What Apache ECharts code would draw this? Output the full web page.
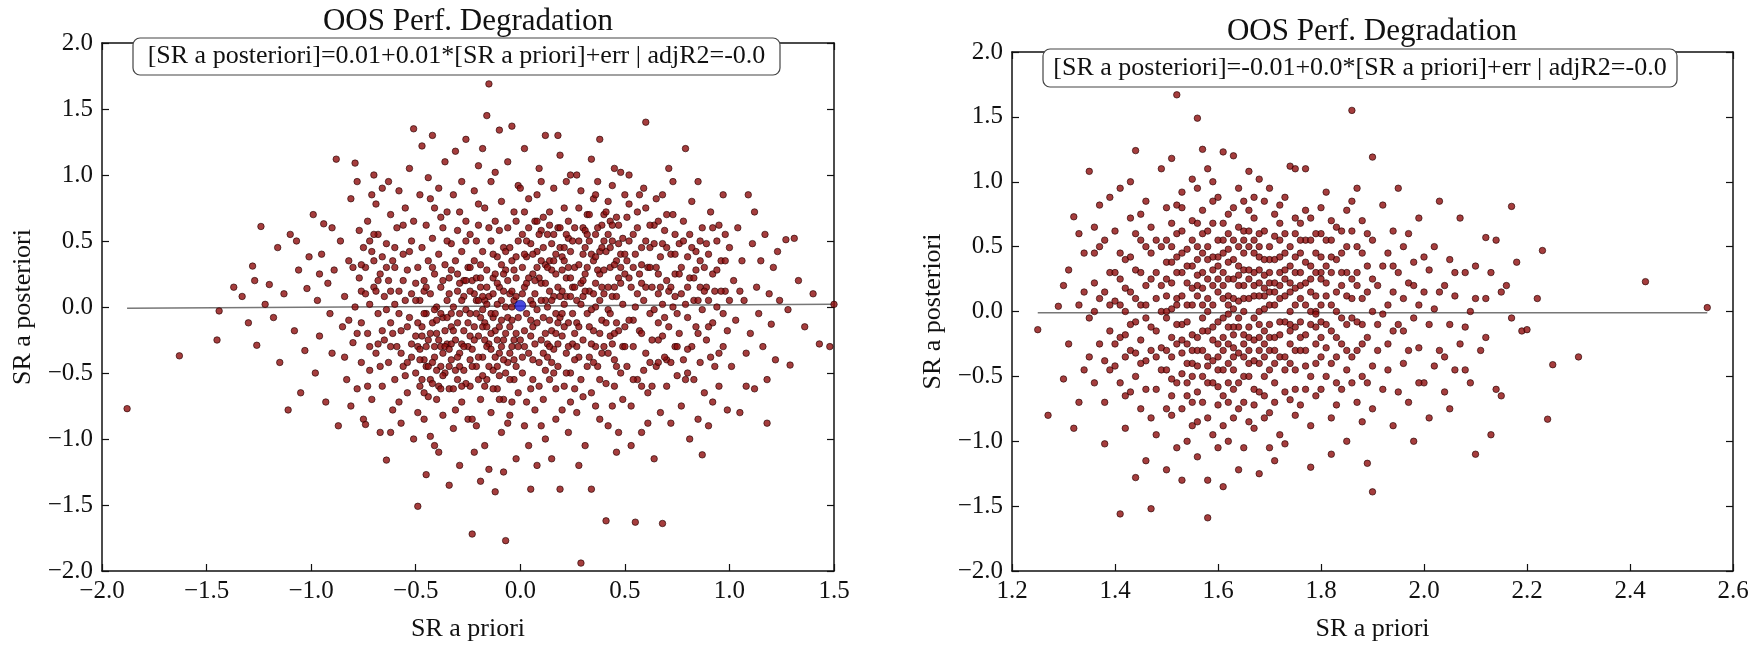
<!DOCTYPE html>
<html>
<head>
<meta charset="utf-8">
<title>OOS Perf. Degradation</title>
<script src="https://cdn.jsdelivr.net/npm/echarts@6/dist/echarts.min.js"></script>
<style>
  html, body { margin: 0; padding: 0; background: #fff; }
  #main { width: 1760px; height: 647px; }
</style>
</head>
<body>
<div id="main"></div>
<script>
// ticks
var leftXTicks = [-2.0, 1.5, 0.5];   // min, max, step
var rightXTicks = [1.2, 2.6, 0.2];
var yTicks = [-2.0, 2.0, 0.5];

// left panel: [SR a priori, SR a posteriori]
var leftPoints = [
[-1.88,-0.77],[-1.63,-0.37],
[-1.45,-0.25],[-1.44,-0.03],[-1.37,0.15],[-1.33,0.08],[-1.30,-0.12],[-1.28,0.31],[-1.27,0.20],[-1.26,-0.29],
[-1.24,0.61],[-1.22,0.02],[-1.2,0.17],[-1.18,-0.08],[-1.16,0.45],[-1.15,-0.42],[-1.13,0.1],[-1.11,-0.78],[-1.1,0.55],[-1.08,-0.18],[-1.07,0.5],[-1.06,0.28],[-1.05,-0.65],[-1.03,-0.33],[-1.02,0.14],[-1.01,0.38],
[-0.99,0.70],[-0.98,-0.5],[-0.97,0.05],[-0.96,-0.22],[-0.95,0.4],[-0.94,0.63],[-0.93,-0.72],[-0.92,0.18],[-0.91,-0.05],[-0.9,-0.35],[-0.89,0.28],[-0.88,1.12],[-0.87,-0.9],[-0.86,0.5],[-0.85,-0.15],[-0.84,0.08],[-0.83,-0.55],[-0.82,0.35],[-0.81,0.82],[-0.8,-0.27],[-0.79,1.09],[-0.79,0.0],[-0.78,-0.62],[-0.77,0.22],[-0.77,0.58],[-0.76,-0.12],[-0.76,-0.42],[-0.75,0.45],[-0.75,-0.85],[-0.76,0.12],[-0.78,0.95],[-0.84,-0.38],[-0.9,0.6],[-0.96,0.25],[-0.81,-0.75],
[-0.74,-0.89],[-0.74,0.3],[-0.73,-0.2],[-0.73,0.65],[-0.72,0.02],[-0.72,-0.48],[-0.71,0.42],[-0.71,-0.7],[-0.70,1.0],[-0.70,0.15],[-0.69,-0.35],[-0.69,0.78],[-0.68,-0.05],[-0.68,0.55],[-0.67,-0.95],[-0.67,0.25],[-0.66,-0.6],[-0.66,0.9],[-0.65,0.08],[-0.65,-0.25],[-0.64,-1.16],[-0.64,0.48],[-0.63,-0.42],[-0.63,0.2],[-0.62,0.7],[-0.62,-0.12],[-0.61,-0.78],[-0.61,0.35],[-0.60,0.02],[-0.60,-0.55],[-0.59,0.6],[-0.59,-0.3],[-0.58,0.12],[-0.58,0.88],[-0.57,-0.18],[-0.57,-0.88],[-0.56,0.4],[-0.56,-0.45],[-0.55,0.05],[-0.55,0.75],[-0.54,-0.65],[-0.54,0.28],[-0.53,-0.08],[-0.53,1.05],[-0.52,-0.38],[-0.52,0.5],[-0.51,1.35],[-0.51,-1.0],[-0.50,0.18],[-0.50,-0.22],[-0.73,-0.6],[-0.7,0.55],[-0.68,-0.28],[-0.66,0.38],[-0.64,-0.02],[-0.62,-0.95],[-0.6,0.3],[-0.58,-0.72],[-0.56,0.62],[-0.54,-0.15],[-0.52,0.1],[-0.71,0.85],[-0.67,-0.45],[-0.63,0.95],[-0.57,-0.35],[-0.53,0.42],[-0.55,-0.52],[-0.69,0.12],[-0.61,-0.2],[-0.51,0.65],
[-0.8,0.3],[-0.78,-0.2],[-0.76,0.32],[-0.74,0.1],[-0.72,-0.3],[-0.7,0.35],[-0.68,0.2],[-0.66,-0.18],[-0.64,0.3],[-0.62,-0.3],[-0.6,0.45],[-0.58,-0.05],[-0.56,0.2],[-0.82,-0.1],[-0.72,0.5],[-0.62,0.12],
[-0.49,-1.51],[-0.49,0.3],[-0.49,-0.3],[-0.48,0.05],[-0.48,0.85],[-0.48,-0.6],[-0.47,1.22],[-0.47,-0.15],[-0.47,0.45],[-0.46,-0.85],[-0.46,0.2],[-0.46,-0.4],[-0.45,0.62],[-0.45,-0.05],[-0.45,-1.27],[-0.44,0.35],[-0.44,-0.25],[-0.44,0.98],[-0.43,-0.55],[-0.43,0.1],[-0.43,-0.98],[-0.42,1.3],[-0.42,0.52],[-0.42,-0.12],[-0.41,-0.38],[-0.41,0.25],[-0.41,0.75],[-0.40,-0.7],[-0.40,0.0],[-0.40,-0.2],[-0.39,0.4],[-0.39,-1.1],[-0.39,0.9],[-0.38,-0.45],[-0.38,0.15],[-0.38,-0.3],[-0.37,0.6],[-0.37,-0.08],[-0.37,-0.82],[-0.36,0.32],[-0.36,1.1],[-0.36,-0.5],[-0.35,0.05],[-0.35,-0.28],[-0.35,0.72],[-0.34,-0.62],[-0.34,0.22],[-0.34,-1.35],[-0.33,0.48],[-0.33,-0.15],[-0.33,-0.4],[-0.32,0.85],[-0.32,0.0],[-0.32,-0.92],[-0.31,0.35],[-0.31,-0.25],[-0.31,1.18],[-0.30,-0.55],[-0.30,0.12],[-0.30,0.58],[-0.29,-0.35],[-0.29,-0.05],[-0.29,-1.2],[-0.28,0.42],[-0.28,-0.72],[-0.28,0.95],[-0.27,0.2],[-0.27,-0.18],[-0.27,-0.48],[-0.26,1.27],[-0.26,0.65],[-0.26,-0.02],[-0.25,-0.3],[-0.25,-0.85],[-0.25,0.3],
[-0.48,-0.4],[-0.46,0.12],[-0.44,-0.68],[-0.42,0.3],[-0.4,-0.48],[-0.38,0.68],[-0.36,-0.18],[-0.34,0.1],[-0.32,-0.62],[-0.3,0.25],[-0.28,-0.28],[-0.26,0.5],[-0.47,-0.22],[-0.43,0.82],[-0.39,-0.6],[-0.35,0.5],[-0.31,-0.78],[-0.27,0.08],[-0.45,0.15],[-0.41,-0.02],[-0.37,0.2],[-0.33,-0.05],[-0.29,0.18],[-0.49,-0.8],[-0.45,-0.45],[-0.41,-1.05],[-0.37,-0.35],[-0.33,0.28],[-0.29,0.72],
[-0.54,-0.42],[-0.52,-0.28],[-0.5,-0.5],[-0.49,-0.12],[-0.48,-0.32],[-0.47,-0.55],[-0.46,-0.05],[-0.45,-0.3],[-0.44,-0.45],[-0.43,-0.2],[-0.42,-0.58],[-0.41,-0.3],[-0.4,-0.1],[-0.39,-0.25],[-0.38,-0.62],[-0.37,-0.52],[-0.36,-0.3],[-0.35,-0.08],[-0.34,-0.45],[-0.33,-0.28],[-0.32,-0.18],[-0.31,-0.48],[-0.3,-0.38],[-0.5,0.05],[-0.46,-0.65],[-0.42,-0.42],[-0.38,-0.05],[-0.34,-0.32],[-0.3,-0.12],
[-0.24,-0.05],[-0.24,0.55],[-0.24,-0.6],[-0.23,-1.72],[-0.23,0.2],[-0.23,-0.32],[-0.22,0.88],[-0.22,-0.15],[-0.22,0.35],[-0.21,-0.9],[-0.21,0.05],[-0.21,-0.45],[-0.20,1.07],[-0.20,0.62],[-0.20,-0.22],[-0.19,-1.32],[-0.19,0.15],[-0.19,-0.7],[-0.18,0.42],[-0.18,-0.02],[-0.18,-0.38],[-0.17,0.75],[-0.17,-0.12],[-0.17,-1.05],[-0.16,1.45],[-0.16,0.28],[-0.16,-0.55],[-0.15,1.69],[-0.15,-1.23],[-0.15,0.08],[-0.15,-0.28],[-0.14,0.5],[-0.14,-0.8],[-0.14,0.95],[-0.13,-0.08],[-0.13,0.22],[-0.13,-0.48],[-0.12,0.65],[-0.12,-0.18],[-0.12,-1.4],[-0.11,0.38],[-0.11,-0.62],[-0.11,0.02],[-0.10,1.34],[-0.10,-0.35],[-0.10,0.15],[-0.09,0.8],[-0.09,-0.95],[-0.09,-0.1],[-0.08,0.45],[-0.08,-0.25],[-0.08,-0.7],[-0.07,-1.77],[-0.07,0.28],[-0.07,0.0],[-0.06,-0.42],[-0.06,0.6],[-0.06,1.1],[-0.05,-0.15],[-0.05,0.1],[-0.05,-0.82],[-0.04,1.37],[-0.04,0.35],[-0.04,-0.3],[-0.03,-0.55],[-0.03,0.72],[-0.03,0.05],[-0.02,-1.15],[-0.02,0.22],[-0.02,-0.2],[-0.01,0.5],[-0.01,-0.65],[-0.01,0.92],
[-0.24,0.3],[-0.23,-0.85],[-0.22,0.1],[-0.21,0.5],[-0.2,-0.55],[-0.19,0.32],[-0.18,-0.15],[-0.17,0.05],[-0.16,-0.3],[-0.15,0.6],[-0.14,-0.2],[-0.13,0.4],[-0.12,-0.38],[-0.11,0.18],[-0.1,-0.52],[-0.09,0.32],[-0.08,0.12],[-0.07,-0.5],[-0.06,0.2],[-0.05,-0.35],[-0.04,0.12],[-0.03,-0.4],[-0.02,0.38],[-0.01,-0.08],[-0.24,-0.22],[-0.2,0.78],[-0.16,0.02],[-0.12,1.02],[-0.08,-1.25],[-0.04,-0.72],[-0.22,-1.1],[-0.18,1.2],[-0.14,-0.05],[-0.1,0.58],[-0.06,-0.88],[-0.02,0.65],[-0.19,-0.08],[-0.13,-0.62],[-0.07,0.42],[-0.03,0.28],[-0.21,0.22],[-0.11,-0.25],[-0.05,0.45],[-0.17,-0.6],[-0.09,0.05],
[-0.29,-0.45],[-0.28,0.05],[-0.27,-0.3],[-0.26,-0.58],[-0.25,-0.12],[-0.24,0.12],[-0.23,-0.45],[-0.22,-0.25],[-0.21,-0.05],[-0.2,-0.38],[-0.19,0.22],[-0.18,-0.52],[-0.17,-0.25],[-0.16,0.15],[-0.15,-0.45],[-0.14,-0.32],[-0.13,0.1],[-0.12,-0.05],[-0.11,-0.45],[-0.1,-0.15],[-0.09,-0.3],[-0.08,0.25],[-0.07,-0.2],[-0.06,-0.08],[-0.05,-0.55],[-0.04,-0.1],[-0.03,-0.25],[-0.02,0.08],[-0.01,-0.3],[-0.28,-0.6],[-0.24,-0.4],[-0.2,0.05],[-0.16,-0.15],[-0.12,0.25],[-0.08,-0.4],[-0.04,0.0],[-0.26,0.2],[-0.18,0.08],[-0.1,-0.7],[-0.02,-0.45],
[0.00,-0.25],[0.01,0.55],[0.01,-0.5],[0.02,0.15],[0.02,-0.9],[0.02,1.2],[0.03,-0.05],[0.03,0.38],[0.04,-0.35],[0.04,0.82],[0.05,-1.38],[0.05,0.05],[0.05,-0.62],[0.06,0.25],[0.06,-0.15],[0.07,0.65],[0.07,-0.78],[0.08,-1.2],[0.08,0.42],[0.08,-0.02],[0.09,-0.42],[0.09,1.05],[0.10,0.18],[0.10,-0.25],[0.10,0.58],[0.11,-0.7],[0.11,-0.08],[0.12,0.32],[0.12,1.3],[0.12,-1.0],[0.13,0.0],[0.13,-0.38],[0.14,0.72],[0.14,-0.55],[0.14,0.12],[0.15,-0.18],[0.15,0.48],[0.15,-1.15],[0.16,0.9],[0.16,-0.32],[0.17,0.25],[0.17,-0.85],[0.17,-0.05],[0.18,0.6],[0.18,-0.45],[0.19,0.08],[0.19,-1.38],[0.19,1.15],[0.20,-0.22],[0.20,0.38],[0.21,-0.6],[0.21,0.75],[0.21,0.02],[0.22,-0.35],[0.22,0.22],[0.23,-0.95],[0.23,0.52],[0.23,-0.12],[0.24,1.0],[0.24,-0.5],[0.25,0.15],[0.25,-0.28],
[0.01,0.3],[0.03,-0.72],[0.05,0.48],[0.07,0.1],[0.09,-0.6],[0.11,0.45],[0.13,-0.28],[0.15,0.28],[0.17,-0.62],[0.19,0.45],[0.21,-0.15],[0.23,0.3],[0.02,-0.18],[0.04,0.6],[0.06,-0.4],[0.08,0.85],[0.1,-0.9],[0.12,0.05],[0.14,-0.1],[0.16,0.55],[0.18,-0.28],[0.2,0.12],[0.22,0.95],[0.24,-0.72],[0.0,0.9],[0.04,-1.05],[0.08,0.3],[0.12,-0.48],[0.16,0.08],[0.2,-0.78],[0.24,0.42],[0.03,0.18],[0.07,-0.28],[0.11,0.68],[0.15,-0.42],[0.19,-0.08],[0.23,0.65],[0.05,-0.1],[0.13,0.55],[0.21,0.35],[0.09,0.22],[0.17,0.4],[0.25,-0.05],[0.01,-0.38],[0.06,0.02],[0.14,0.35],[0.18,1.3],[0.22,-0.5],[0.1,0.95],[0.02,0.72],
[0.01,0.1],[0.02,-0.3],[0.03,0.5],[0.04,0.22],[0.05,-0.22],[0.06,0.4],[0.07,0.2],[0.08,-0.12],[0.09,0.55],[0.1,0.05],[0.11,-0.35],[0.12,0.18],[0.13,0.3],[0.14,-0.3],[0.15,0.05],[0.16,0.35],[0.17,-0.2],[0.18,0.15],[0.19,0.6],[0.2,-0.05],[0.21,0.45],[0.22,0.08],[0.23,-0.3],[0.24,0.22],[0.25,0.5],[0.26,0.3],[0.27,-0.12],[0.28,0.5],[0.29,0.18],[0.3,0.6],[0.02,0.4],[0.06,-0.55],[0.1,0.35],[0.14,0.62],[0.18,-0.12],[0.22,0.55],[0.26,-0.2],[0.3,0.08],[0.08,0.65],[0.16,-0.5],[0.24,0.08],[0.12,-0.2],[0.2,0.28],[0.28,-0.38],
[0.26,0.6],[0.26,-0.4],[0.27,0.05],[0.27,-0.8],[0.28,0.32],[0.28,-0.15],[0.29,-1.94],[0.29,0.88],[0.29,-0.55],[0.30,0.2],[0.30,-0.25],[0.31,-1.05],[0.31,0.45],[0.32,-0.05],[0.32,0.7],[0.33,-0.38],[0.33,0.12],[0.34,-1.38],[0.34,1.12],[0.34,-0.65],[0.35,0.35],[0.35,-0.18],[0.36,0.55],[0.36,0.0],[0.37,-0.45],[0.37,0.95],[0.38,1.27],[0.38,0.25],[0.38,-0.85],[0.39,-0.1],[0.39,0.62],[0.40,-0.3],[0.40,0.1],[0.41,-1.62],[0.41,0.42],[0.41,-0.58],[0.42,0.8],[0.42,-0.02],[0.43,-0.22],[0.43,0.3],[0.44,-0.75],[0.44,0.5],[0.45,-0.4],[0.45,1.05],[0.45,0.15],[0.46,-0.12],[0.46,0.68],[0.47,-0.95],[0.47,0.22],[0.48,-0.5],[0.48,0.4],[0.49,0.02],[0.49,-0.3],[0.50,0.85],
[0.26,0.15],[0.27,-0.3],[0.28,0.75],[0.29,0.02],[0.3,-0.68],[0.31,0.12],[0.32,-0.45],[0.33,0.5],[0.34,-0.02],[0.35,0.82],[0.36,-0.3],[0.37,0.28],[0.38,-0.55],[0.39,0.15],[0.4,0.5],[0.41,-0.12],[0.42,-0.9],[0.43,0.65],[0.44,0.08],[0.45,-0.6],[0.46,0.35],[0.47,-0.18],[0.48,1.02],[0.49,-0.7],[0.27,1.0],[0.3,0.4],[0.33,-0.15],[0.36,0.18],[0.39,-0.35],[0.42,0.55],[0.45,-0.2],[0.48,0.18],[0.28,-1.2],[0.32,0.3],[0.36,-0.75],[0.4,0.7],[0.44,-0.28],[0.5,-0.15],[0.31,0.58],[0.35,-0.42],[0.43,-0.05],[0.47,0.48],[0.26,-0.62],[0.38,0.42],[0.46,-1.1],[0.5,0.25],
[0.31,0.25],[0.32,0.55],[0.33,0.7],[0.34,0.4],[0.35,0.1],[0.36,0.38],[0.37,0.6],[0.38,0.05],[0.39,0.45],[0.4,0.28],[0.41,0.72],[0.42,0.15],[0.43,0.45],[0.44,0.62],[0.45,0.32],[0.46,0.08],[0.47,0.62],[0.48,0.3],[0.49,0.52],[0.5,0.4],[0.52,0.5],[0.54,0.3],[0.56,0.6],[0.58,0.32],[0.6,0.15],[0.62,0.45],[0.64,0.62],[0.66,0.25],[0.68,0.48],[0.7,0.7],[0.34,-0.28],[0.38,-0.2],[0.42,-0.35],[0.46,-0.45],[0.5,-0.3],[0.54,-0.1],[0.58,-0.6],[0.62,-0.42],[0.66,-0.25],[0.7,-0.4],[0.36,0.85],[0.44,0.92],[0.52,0.78],[0.6,0.75],[0.68,0.85],
[0.51,-0.45],[0.51,0.35],[0.52,1.0],[0.52,-0.1],[0.53,0.15],[0.53,-0.75],[0.54,0.55],[0.54,-0.3],[0.55,-1.63],[0.55,0.0],[0.56,0.72],[0.56,-0.55],[0.57,0.25],[0.57,-0.18],[0.58,-0.95],[0.58,0.45],[0.59,0.05],[0.59,0.9],[0.60,1.4],[0.60,-0.35],[0.61,0.3],[0.61,-0.65],[0.62,-0.05],[0.62,0.62],[0.63,-0.25],[0.63,0.15],[0.64,-1.15],[0.64,0.48],[0.65,-0.45],[0.65,0.82],[0.66,0.1],[0.66,-0.12],[0.67,-0.8],[0.67,0.38],[0.68,-1.64],[0.68,0.02],[0.69,0.58],[0.69,-0.38],[0.70,0.2],[0.70,-0.6],[0.71,1.05],[0.71,-0.15],[0.72,0.4],[0.72,-0.88],[0.73,0.0],[0.73,0.7],[0.74,-0.3],[0.74,0.25],[0.75,-0.52],
[0.52,0.22],[0.54,-0.55],[0.56,0.1],[0.58,-0.2],[0.6,0.5],[0.62,0.3],[0.64,-0.02],[0.66,0.65],[0.68,-0.22],[0.7,0.45],[0.72,-0.42],[0.74,0.55],[0.53,-1.05],[0.57,0.85],[0.61,-0.88],[0.65,0.3],[0.69,-0.08],[0.73,0.95],[0.55,0.4],[0.63,-0.6],[0.71,0.12],[0.59,-0.48],[0.67,0.15],[0.75,-0.05],[0.51,0.68],[0.58,0.18],[0.66,-0.42],[0.74,0.08],
[0.76,0.48],[0.76,-0.2],[0.77,0.1],[0.77,-0.75],[0.78,0.65],[0.78,-0.4],[0.79,1.2],[0.79,0.02],[0.80,-0.08],[0.80,0.38],[0.81,-1.0],[0.81,0.22],[0.82,-0.3],[0.82,0.8],[0.83,0.05],[0.83,-0.55],[0.84,0.42],[0.84,-0.15],[0.85,0.95],[0.85,-0.85],[0.86,0.15],[0.86,-0.42],[0.87,0.6],[0.87,-0.02],[0.88,-0.65],[0.88,0.3],[0.89,0.48],[0.89,-0.25],[0.90,0.05],[0.90,-0.9],[0.91,0.72],[0.92,-0.12],[0.92,0.25],[0.93,-0.45],[0.94,0.5],[0.94,0.0],[0.95,-0.6],[0.96,0.35],[0.97,-0.3],[0.97,0.85],[0.98,0.12],[0.99,-0.18],[1.00,0.45],
[0.77,0.3],[0.79,-0.55],[0.81,0.55],[0.83,0.22],[0.85,-0.2],[0.87,-1.12],[0.89,0.15],[0.91,-0.38],[0.93,0.12],[0.95,0.62],[0.97,-0.05],[0.99,-0.78],[0.8,-0.32],[0.86,0.35],[0.92,-0.72],[0.98,0.55],
[0.72,0.15],[0.74,0.4],[0.76,0.25],[0.78,0.5],[0.8,0.15],[0.82,0.45],[0.84,0.28],[0.86,0.5],[0.88,0.12],[0.9,0.4],[0.92,0.6],[0.94,0.28],[0.96,0.12],[0.98,0.35],[0.75,-0.3],[0.8,-0.5],[0.85,0.05],[0.9,-0.15],[0.95,-0.35],[1.0,0.05],
[1.01,-0.45],[1.02,0.2],[1.03,-0.1],[1.04,0.6],[1.05,-0.8],[1.06,0.35],[1.07,0.05],[1.08,-0.35],[1.09,0.85],[1.10,-0.2],[1.11,0.48],[1.12,-0.62],[1.13,0.15],[1.14,-0.05],[1.15,0.35],[1.16,-0.3],[1.17,0.55],[1.18,-0.55],[1.19,0.1],[1.20,-0.13],[1.21,0.3],[1.22,-0.4],[1.23,0.42],[1.24,0.05],[1.05,0.12],[1.12,0.72],[1.18,-0.88],[1.08,-0.6],
[1.27,0.51],[1.28,-0.02],[1.29,-0.44],[1.31,0.52],[1.33,0.2],[1.36,-0.15],[1.4,0.1],[1.43,-0.28],[1.48,-0.3],[1.5,0.02]
];
var leftMean = [[0.0, 0.01]];
var leftFit = [[-1.88, -0.01], [1.5, 0.02]];

// right panel
var rightPoints = [
[1.25,-0.14],[1.27,-0.8],[1.29,0.04],[1.3,-0.52],[1.31,0.32],[1.32,0.73],[1.32,-0.9],[1.33,0.6],[1.34,-0.45],[1.34,0.15],
[1.3,0.2],[1.31,-0.25],[1.33,0.05],[1.34,0.45],[1.35,-0.35],[1.36,0.0],[1.37,0.5],[1.38,0.15],[1.39,-0.45],[1.33,-0.7],[1.36,0.65],[1.39,0.05],
[1.35,1.08],[1.35,-0.05],[1.36,0.45],[1.36,-0.55],[1.37,0.82],[1.37,-0.25],[1.37,0.1],[1.38,-1.02],[1.38,0.55],[1.38,-0.7],[1.39,0.3],[1.39,-0.15],[1.39,0.88],[1.36,0.22],[1.38,-0.38],
[1.40,0.08],[1.40,-0.42],[1.40,0.62],[1.41,-1.56],[1.41,0.25],[1.41,-0.2],[1.41,0.95],[1.42,-0.65],[1.42,0.4],[1.42,0.0],[1.42,-0.9],[1.43,0.72],[1.43,-0.3],[1.43,0.15],[1.43,1.0],[1.44,1.24],[1.44,-0.5],[1.44,0.32],[1.44,-0.08],[1.44,-1.28],[1.45,0.55],[1.45,-0.22],[1.45,0.05],[1.45,-0.75],[1.46,0.85],[1.46,0.2],[1.46,-0.38],[1.46,-1.15],[1.47,-1.52],[1.47,0.45],[1.47,-0.12],[1.47,0.65],[1.48,0.1],[1.48,-0.6],[1.48,0.3],[1.48,-0.95],[1.49,1.1],[1.49,-0.28],[1.49,0.0],[1.49,0.5],
[1.40,-0.25],[1.41,0.45],[1.41,-0.55],[1.42,0.18],[1.42,-0.35],[1.43,-0.1],[1.43,0.42],[1.43,-0.62],[1.44,0.1],[1.44,0.6],[1.45,-0.4],[1.45,0.3],[1.46,-0.05],[1.46,0.5],[1.46,-0.6],[1.47,0.25],[1.47,-0.3],[1.48,-0.15],[1.48,0.55],[1.49,0.2],[1.49,-0.45],[1.5,0.38],[1.4,0.3],[1.42,-0.18],[1.44,-0.32],[1.46,0.05],[1.48,-0.35],[1.45,0.75],[1.47,-0.82],[1.41,0.05],
[1.50,-0.45],[1.50,0.25],[1.50,0.8],[1.50,-0.05],[1.51,-0.8],[1.51,0.38],[1.51,-0.2],[1.51,1.18],[1.52,1.67],[1.52,0.1],[1.52,-0.55],[1.52,0.6],[1.52,-1.05],[1.53,-0.32],[1.53,0.3],[1.53,0.92],[1.53,-0.1],[1.53,-1.3],[1.54,0.48],[1.54,-0.65],[1.54,0.05],[1.54,-0.4],[1.55,0.7],[1.55,-0.18],[1.55,0.18],[1.55,-0.88],[1.55,1.02],
[1.5,0.55],[1.51,-0.35],[1.52,0.42],[1.53,-0.75],[1.54,0.22],[1.55,-0.5],[1.5,-1.22],[1.51,0.02],[1.52,-0.25],[1.53,0.62],[1.54,-0.08],[1.55,0.35],[1.5,0.12],[1.52,0.82],[1.54,-1.0],[1.51,0.68],[1.53,-0.48],[1.55,-0.3],
[1.5,-0.3],[1.5,0.0],[1.51,0.22],[1.51,-0.52],[1.52,-0.1],[1.52,0.3],[1.53,0.12],[1.53,-0.22],[1.54,0.35],[1.54,-0.55],[1.55,0.05],[1.55,0.55],[1.56,-0.3],[1.56,0.2],[1.57,-0.05],[1.57,0.6],[1.58,-0.15],[1.58,-0.55],[1.59,0.32],[1.59,0.05],[1.6,-0.35],[1.6,0.25],[1.51,-0.65],[1.53,0.45],[1.55,-0.7],[1.57,0.18],[1.59,-0.22],[1.52,0.05],[1.54,-0.25],[1.56,0.4],[1.58,-0.42],[1.6,0.42],[1.5,-0.75],[1.53,0.8],[1.56,-0.85],[1.59,0.85],[1.51,0.5],[1.55,-0.4],[1.58,0.5],[1.6,-0.58],
[1.56,1.49],[1.56,0.12],[1.56,-0.42],[1.56,0.5],[1.56,-1.12],[1.57,0.78],[1.57,-0.15],[1.57,0.3],[1.57,-0.7],[1.58,-1.59],[1.58,0.0],[1.58,0.62],[1.58,-0.35],[1.58,1.1],[1.59,0.2],[1.59,-0.55],[1.59,0.42],[1.59,-0.95],[1.60,-0.08],[1.60,0.88],[1.60,-0.25],[1.60,0.35],[1.56,-0.62],[1.57,0.05],[1.58,-0.82],[1.59,0.68],[1.6,-0.45],[1.56,0.95],[1.57,-0.3],[1.58,0.25],[1.59,-0.12],[1.6,0.55],[1.56,-0.2],[1.57,0.45],[1.58,-1.3],[1.59,1.0],[1.6,0.15],[1.56,0.28],[1.58,0.4],[1.6,-0.72],[1.57,-0.5],[1.59,-0.38],[1.57,1.25],[1.6,-1.05],[1.58,0.1],[1.56,0.68],
[1.61,-0.2],[1.61,0.45],[1.61,-0.65],[1.61,0.1],[1.61,1.23],[1.62,-0.4],[1.62,0.25],[1.62,0.75],[1.62,-0.02],[1.62,-1.0],[1.63,0.55],[1.63,-0.28],[1.63,0.1],[1.63,-0.82],[1.63,1.2],[1.64,0.35],[1.64,-0.12],[1.64,0.95],[1.64,-0.55],[1.64,-1.22],[1.65,0.2],[1.65,-0.35],[1.65,0.62],[1.65,0.0],[1.65,-0.7],
[1.61,0.3],[1.62,-0.55],[1.63,0.4],[1.64,0.08],[1.65,-0.18],[1.61,-0.88],[1.62,0.6],[1.63,-0.12],[1.64,0.5],[1.65,0.85],[1.61,0.68],[1.62,0.12],[1.63,-0.45],[1.64,-0.32],[1.65,0.32],[1.61,-0.05],[1.63,0.8],[1.65,-1.05],[1.62,-0.25],[1.64,0.2],[1.61,-1.35],[1.63,-0.6],[1.65,0.45],[1.62,0.38],
[1.61,0.2],[1.61,-0.45],[1.62,-0.12],[1.62,0.48],[1.63,0.25],[1.63,-0.35],[1.64,-0.05],[1.64,0.65],[1.65,0.1],[1.65,-0.5],[1.66,0.25],[1.66,-0.2],[1.67,0.45],[1.67,-0.05],[1.68,-0.3],[1.68,0.32],[1.69,-0.25],[1.69,0.28],[1.7,0.4],[1.7,-0.45],[1.61,-0.3],[1.63,-0.18],[1.65,0.55],[1.67,-0.72],[1.69,0.12],[1.62,0.05],[1.64,-0.75],[1.66,0.62],[1.68,-0.1],[1.7,0.22],[1.61,0.55],[1.63,0.02],[1.65,-0.25],[1.67,0.2],[1.69,-0.82],[1.62,-0.7],[1.64,0.28],[1.66,-0.4],[1.68,0.5],[1.7,-0.2],
[1.66,0.1],[1.66,-0.5],[1.66,0.5],[1.66,1.08],[1.67,-0.22],[1.67,0.3],[1.67,-0.9],[1.67,0.72],[1.68,0.0],[1.68,-0.4],[1.68,0.42],[1.68,-1.25],[1.69,0.18],[1.69,-0.15],[1.69,0.62],[1.69,-0.65],[1.70,0.3],[1.70,-0.3],[1.70,0.95],[1.70,0.05],
[1.66,-0.12],[1.67,0.12],[1.68,0.6],[1.69,-0.35],[1.7,-0.78],[1.66,0.32],[1.67,-0.6],[1.68,0.22],[1.69,0.4],[1.7,-0.1],[1.66,-0.85],[1.67,0.55],[1.68,-0.2],[1.69,0.85],[1.7,0.5],[1.66,0.78],[1.68,-0.62],[1.7,0.15],[1.67,-0.38],[1.69,0.02],[1.66,-0.3],[1.68,1.02],[1.7,-1.05],[1.67,0.88],[1.69,-0.5],[1.68,0.12],
[1.71,0.4],[1.71,-0.2],[1.71,0.75],[1.71,-0.55],[1.72,0.1],[1.72,0.55],[1.72,-0.35],[1.72,-0.95],[1.73,0.25],[1.73,-0.08],[1.73,0.88],[1.73,-0.62],[1.74,0.35],[1.74,-0.25],[1.74,1.12],[1.74,0.0],[1.75,0.6],[1.75,-0.45],[1.75,0.18],[1.75,-0.8],
[1.71,0.05],[1.72,0.3],[1.73,-0.35],[1.74,0.5],[1.75,-0.12],[1.71,-0.4],[1.72,0.82],[1.73,0.45],[1.74,-0.68],[1.75,0.3],[1.71,-1.15],[1.73,0.12],[1.75,0.72],[1.72,-0.18],[1.74,0.15],[1.71,0.22],[1.73,-1.02],[1.75,-0.3],[1.72,0.68],[1.74,-0.1],[1.71,0.58],[1.75,1.1],
[1.71,-0.3],[1.71,0.15],[1.72,0.42],[1.72,-0.08],[1.73,0.32],[1.73,-0.45],[1.74,0.22],[1.74,-0.4],[1.75,0.05],[1.75,0.42],[1.76,-0.2],[1.76,0.2],[1.77,0.38],[1.77,-0.3],[1.78,0.25],[1.78,-0.5],[1.79,0.12],[1.79,-0.12],[1.8,0.3],[1.8,-0.08],[1.71,-0.7],[1.73,0.6],[1.75,-0.6],[1.77,0.55],[1.79,-0.65],[1.72,0.2],[1.74,-0.15],[1.76,0.55],[1.78,0.0],[1.8,0.6],
[1.76,0.1],[1.76,-0.3],[1.76,0.45],[1.77,-0.6],[1.77,0.22],[1.77,0.78],[1.78,-0.1],[1.78,0.35],[1.78,-0.88],[1.79,0.6],[1.79,0.0],[1.79,-0.4],[1.80,0.25],[1.80,-0.2],[1.80,0.8],
[1.76,-0.72],[1.77,0.05],[1.78,0.55],[1.79,-0.25],[1.8,0.42],[1.76,0.68],[1.77,-0.42],[1.78,0.15],[1.79,0.3],[1.8,-0.6],[1.76,-0.08],[1.78,-1.2],[1.8,0.05],[1.77,1.1],[1.79,-0.02],[1.76,0.3],[1.78,0.72],[1.8,-0.35],[1.79,0.45],[1.77,-0.18],
[1.81,-0.5],[1.81,0.12],[1.81,0.55],[1.82,-0.15],[1.82,0.3],[1.82,-0.82],[1.83,0.65],[1.83,0.0],[1.83,-0.35],[1.84,0.2],[1.84,-0.6],[1.84,0.45],[1.85,-0.1],[1.85,0.78],[1.85,-1.0],
[1.81,0.35],[1.82,0.05],[1.83,-0.2],[1.84,0.62],[1.85,0.3],[1.81,-0.28],[1.83,0.4],[1.85,-0.45],[1.82,-1.1],[1.84,-0.05],[1.81,0.92],[1.83,-0.72],[1.85,0.12],[1.82,0.55],
[1.81,0.22],[1.81,-0.1],[1.82,0.42],[1.82,-0.4],[1.83,0.15],[1.83,-0.55],[1.84,0.3],[1.84,-0.25],[1.85,0.5],[1.85,-0.3],[1.86,0.1],[1.86,-0.55],[1.87,0.2],[1.87,-0.3],[1.88,0.45],[1.88,-0.1],[1.89,0.6],[1.89,-0.55],[1.9,0.25],[1.91,-0.1],[1.92,0.35],[1.93,-0.25],[1.94,0.15],[1.95,-0.1],[1.82,0.7],[1.86,0.85],[1.9,-0.75],[1.94,0.62],
[1.86,1.55],[1.86,0.25],[1.86,-0.35],[1.87,0.5],[1.87,-0.08],[1.87,-0.7],[1.88,0.1],[1.88,0.7],[1.88,-0.5],[1.89,-1.17],[1.89,0.35],[1.89,-0.2],[1.90,1.19],[1.90,-1.39],[1.90,0.0],[1.90,0.55],
[1.86,-0.05],[1.87,0.3],[1.88,-0.25],[1.89,0.15],[1.86,0.62],[1.88,-0.85],[1.9,-0.42],[1.87,0.95],
[1.91,0.2],[1.91,-0.3],[1.92,0.82],[1.92,-0.6],[1.93,0.05],[1.93,0.45],[1.94,-0.15],[1.94,-0.88],[1.95,0.95],[1.95,0.3],[1.96,-0.4],[1.96,0.1],[1.97,0.6],[1.97,-0.7],[1.98,-0.05],[1.98,0.38],[1.99,-0.28],[1.99,0.72],[2.00,0.15],[2.00,-0.55],[1.92,-0.02],[1.94,0.35],[1.96,-0.15],[1.98,-1.0],[1.93,-0.45],[1.97,0.22],[1.95,-0.62],[1.99,0.05],
[1.96,0.5],[1.97,-0.3],[1.98,0.2],[1.99,-0.55],[2.0,0.42],[2.01,-0.1],[2.03,0.15],[2.04,-0.35],[2.06,0.3],[2.08,-0.45],[2.1,0.1],[2.12,-0.2],
[2.01,0.32],[2.01,-0.82],[2.02,0.02],[2.02,0.5],[2.03,-0.3],[2.04,0.2],[2.04,-0.62],[2.05,0.4],[2.05,-0.1],[2.06,-0.45],[2.06,0.12],[2.07,0.72],[2.07,-0.25],[2.08,0.3],[2.09,-0.55],[2.09,0.0],[2.10,-1.10],[2.10,0.35],[2.03,0.85],[2.05,-0.75],[2.08,-0.12],[2.02,-0.42],
[2.11,-0.3],[2.12,0.57],[2.12,0.1],[2.13,-0.95],[2.13,0.3],[2.14,-0.6],[2.15,-0.65],[2.15,0.15],[2.16,0.2],[2.17,0.81],[2.17,-0.05],[2.18,0.38],[2.19,-0.15],[2.2,-0.14],[2.14,0.55],
[2.22,0.1],[2.23,0.47],[2.24,-0.83],[2.25,-0.41],[2.3,-0.35],[2.43,0.23],[2.55,0.03]
];
var rightFit = [[1.25, -0.01], [2.55, -0.01]];

var titleText = 'OOS Perf. Degradation';
var leftNote = '[SR a posteriori]=0.01+0.01*[SR a priori]+err | adjR2=-0.0';
var rightNote = '[SR a posteriori]=-0.01+0.0*[SR a priori]+err | adjR2=-0.0';

var serif = '"Liberation Serif", "DejaVu Serif", serif';
var myChart = echarts.init(document.getElementById('main'));

function fmt(v) {
    return v.toFixed(1).replace('-', '\u2212');
}

function xAxisPair(grid, ticks, name) {
    var base = {
        gridIndex: grid, type: 'value',
        min: ticks[0], max: ticks[1], interval: ticks[2],
        splitLine: { show: false },
        axisLine: { onZero: false, lineStyle: { color: '#111', width: 1.5 } },
        axisTick: { inside: true, length: 7, lineStyle: { color: '#111', width: 1.2 } }
    };
    var bottom = Object.assign({}, base, {
        position: 'bottom',
        name: name, nameLocation: 'middle', nameGap: 45,
        nameTextStyle: { fontFamily: serif, fontSize: 26, color: '#111' },
        axisLabel: { margin: 8, formatter: fmt, fontFamily: serif, fontSize: 25, color: '#111', showMinLabel: true, showMaxLabel: true }
    });
    var top = Object.assign({}, base, { position: 'top', axisLabel: { show: false } });
    return [bottom, top];
}

function yAxisPair(grid, name) {
    var base = {
        gridIndex: grid, type: 'value',
        min: yTicks[0], max: yTicks[1], interval: yTicks[2],
        splitLine: { show: false },
        axisLine: { onZero: false, lineStyle: { color: '#111', width: 1.5 } },
        axisTick: { inside: true, length: 7, lineStyle: { color: '#111', width: 1.2 } }
    };
    var left = Object.assign({}, base, {
        position: 'left',
        name: name, nameLocation: 'middle', nameGap: 66,
        nameTextStyle: { fontFamily: serif, fontSize: 26, color: '#111' },
        axisLabel: { margin: 9, formatter: fmt, fontFamily: serif, fontSize: 25, color: '#111', showMinLabel: true, showMaxLabel: true }
    });
    var right = Object.assign({}, base, { position: 'right', axisLabel: { show: false } });
    return [left, right];
}

function noteBox(x, y, w, h, text) {
    return {
        type: 'group',
        children: [
            { type: 'rect', shape: { x: x, y: y, width: w, height: h, r: 7 },
              style: { fill: '#fff', stroke: '#444', lineWidth: 1.2 }, z: 100 },
            { type: 'text', z: 101,
              style: { x: x + w / 2, y: y + h / 2, text: text, fill: '#111',
                       font: '26px ' + serif, align: 'center', verticalAlign: 'middle',
                       textAlign: 'center', textVerticalAlign: 'middle' } }
        ]
    };
}

function titleText_(x, y) {
    return { type: 'text', z: 100,
             style: { x: x, y: y, text: titleText, fill: '#111', font: '31px ' + serif,
                      align: 'center', verticalAlign: 'middle', textAlign: 'center', textVerticalAlign: 'middle' } };
}

var dotStyle = { color: '#8e0c0c', borderColor: '#240000', borderWidth: 0.8 };

var option = {
    backgroundColor: '#fff',
    animation: false,
    grid: [
        { left: 102, top: 43, width: 732, height: 531 },
        { left: 1012, top: 52, width: 721, height: 522 }
    ],
    xAxis: xAxisPair(0, leftXTicks, 'SR a priori').concat(xAxisPair(1, rightXTicks, 'SR a priori')),
    yAxis: yAxisPair(0, 'SR a posteriori').concat(yAxisPair(1, 'SR a posteriori')),
    series: [
        { type: 'line', xAxisIndex: 0, yAxisIndex: 0, data: leftFit, symbol: 'none',
          lineStyle: { color: '#777', width: 1.5 }, z: 1 },
        { type: 'scatter', xAxisIndex: 0, yAxisIndex: 0, data: leftPoints, symbolSize: 6.5,
          itemStyle: dotStyle, z: 2, large: false },
        { type: 'scatter', xAxisIndex: 0, yAxisIndex: 0, data: leftMean, symbolSize: 11,
          itemStyle: { color: '#1a1ad6', borderColor: '#000050', borderWidth: 0.8 }, z: 3 },
        { type: 'line', xAxisIndex: 2, yAxisIndex: 2, data: rightFit, symbol: 'none',
          lineStyle: { color: '#777', width: 1.5 }, z: 1 },
        { type: 'scatter', xAxisIndex: 2, yAxisIndex: 2, data: rightPoints, symbolSize: 6.5,
          itemStyle: dotStyle, z: 2, large: false }
    ],
    graphic: [
        titleText_(468, 22),
        titleText_(1372, 32),
        noteBox(133, 38, 647, 37, leftNote),
        noteBox(1043, 49, 634, 38, rightNote)
    ]
};
myChart.setOption(option);
</script>
</body>
</html>
